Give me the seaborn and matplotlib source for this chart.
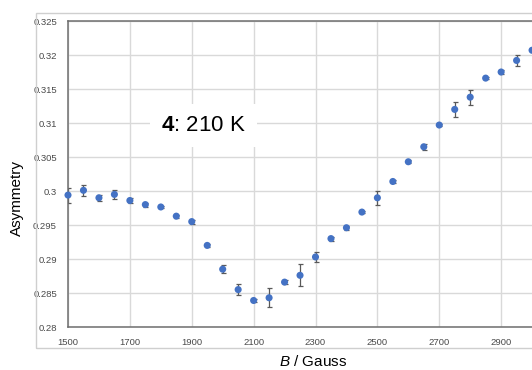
import matplotlib
matplotlib.use("Agg")
import matplotlib.pyplot as plt
from matplotlib.patches import Rectangle
from matplotlib.ticker import FormatStrFormatter
import seaborn as sns
import pandas as pd

# Field scan at 210 K
field_gauss = [1500, 1550, 1600, 1650, 1700, 1750, 1800, 1850, 1900, 1950,
               2000, 2050, 2100, 2150, 2200, 2250, 2300, 2350, 2400, 2450,
               2500, 2550, 2600, 2650, 2700, 2750, 2800, 2850, 2900, 2950,
               3000]
asymmetry = [0.2994, 0.3001, 0.2990, 0.2995, 0.2986, 0.2980, 0.29765, 0.2963,
             0.2955, 0.2920, 0.2885, 0.2855, 0.2839, 0.2843, 0.2866, 0.2876,
             0.2903, 0.2930, 0.2946, 0.2969, 0.2990, 0.3014, 0.3043, 0.3065,
             0.3097, 0.3120, 0.3138, 0.3166, 0.3175, 0.3192, 0.3207]
asym_err = [0.0011, 0.0008, 0.0004, 0.0007, 0.0004, 0.0003, 0.0002, 0.0002,
            0.0003, 0.0002, 0.0006, 0.0008, 0.0002, 0.0014, 0.0003, 0.0016,
            0.0007, 0.0003, 0.0003, 0.0002, 0.0010, 0.0002, 0.0002, 0.0004,
            0.0002, 0.0011, 0.0011, 0.0002, 0.0003, 0.0008, 0.0002]

x_ticks = [1500, 1700, 1900, 2100, 2300, 2500, 2700, 2900]
y_ticks = [0.28, 0.285, 0.29, 0.295, 0.30, 0.305, 0.31, 0.315, 0.32, 0.325]

df = pd.DataFrame({"B": field_gauss, "A": asymmetry, "err": asym_err})

sns.set_theme(style="white")
plt.rcParams["font.family"] = ["Liberation Sans", "DejaVu Sans"]
plt.rcParams["mathtext.fontset"] = "custom"
plt.rcParams["mathtext.rm"] = "Liberation Sans"
plt.rcParams["mathtext.bf"] = "Liberation Sans:bold"
plt.rcParams["mathtext.it"] = "Liberation Sans:italic"

fig = plt.figure(figsize=(5.32, 3.70), dpi=100)
fig.patch.set_facecolor("white")

# outer chart frame
fig.add_artist(Rectangle((36 / 532, 22 / 370), 1.2, 335 / 370,
                         transform=fig.transFigure, fill=False,
                         edgecolor="#cfcfcf", linewidth=1.0))

ax = fig.add_axes([68 / 532, 43 / 370, 495 / 532, 306 / 370])

ax.errorbar(df["B"], df["A"], yerr=df["err"], fmt="none",
            ecolor="#595959", elinewidth=0.9, capsize=1.8, capthick=0.9,
            zorder=2)
sns.scatterplot(data=df, x="B", y="A", ax=ax, color="#4472C4", s=26,
                edgecolor="none", zorder=3, clip_on=False)

ax.set_xlim(1500, 3100)
ax.set_ylim(0.28, 0.325)
ax.set_xticks(x_ticks)
ax.set_yticks(y_ticks)
ax.yaxis.set_major_formatter(FormatStrFormatter("%g"))

ax.grid(True, color="#d9d9d9", linewidth=1.0)
ax.set_axisbelow(True)
for side in ["left", "bottom", "top"]:
    ax.spines[side].set_color("#6e6e6e")
    ax.spines[side].set_linewidth(1.1)
ax.spines["right"].set_visible(False)

ax.tick_params(axis="both", length=0, labelsize=6.8, labelcolor="#4a4a4a")
ax.tick_params(axis="y", pad=8)
ax.tick_params(axis="x", pad=8)

ax.set_xlabel("$\\mathit{B}$ / Gauss", fontsize=11, color="black")
ax.set_ylabel("Asymmetry", fontsize=11, color="black")
ax.xaxis.set_label_coords((313 - 68) / 495, -27 / 306)
ax.yaxis.set_label_coords((17 - 68) / 495, 129 / 306)
ax.yaxis.label.set_verticalalignment("center")

ax.text(1937, 0.30965, "$\\mathbf{4}$: 210 K", fontsize=16, ha="center",
        va="center", color="black", zorder=4,
        bbox=dict(boxstyle="square,pad=0.5", facecolor="white",
                  edgecolor="none"))

fig.savefig("out.png", dpi=100)
